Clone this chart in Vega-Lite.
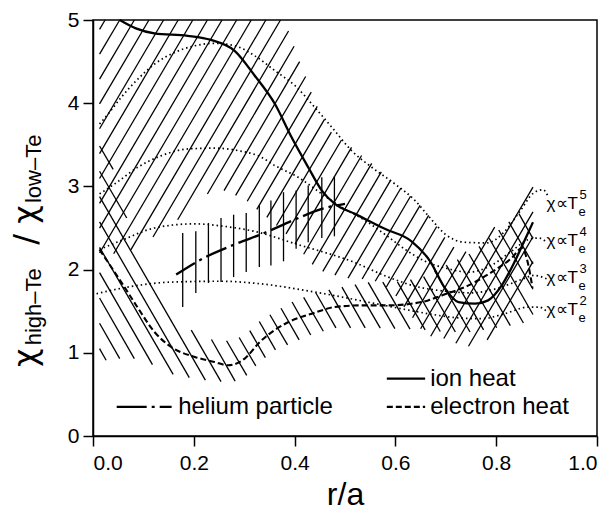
{
  "$schema": "https://vega.github.io/schema/vega-lite/v6.json",
  "width": 504,
  "height": 416,
  "autosize": {"type": "none"},
  "padding": {"left": 93, "top": 20, "right": 13, "bottom": 76},
  "background": "white",
  "config": {
    "font": "Liberation Sans",
    "view": {"stroke": "#000", "strokeWidth": 1.5},
    "axis": {
      "grid": false,
      "domainColor": "#000",
      "domainWidth": 1.5,
      "tickColor": "#000",
      "tickWidth": 1.5,
      "tickSize": 10,
      "labelColor": "#000",
      "labelFontSize": 21,
      "titleColor": "#000",
      "titleFontSize": 32,
      "titleFontWeight": "normal"
    }
  },
  "datasets": {
    "ionHatch": [
      {"x": 0.013, "y": 4.887, "x2": 0.024, "y2": 5},
      {"x": 0.013, "y": 4.589, "x2": 0.053, "y2": 5},
      {"x": 0.013, "y": 4.29, "x2": 0.082, "y2": 5},
      {"x": 0.013, "y": 3.991, "x2": 0.111, "y2": 5},
      {"x": 0.013, "y": 3.693, "x2": 0.14, "y2": 5},
      {"x": 0.013, "y": 3.394, "x2": 0.169, "y2": 5},
      {"x": 0.013, "y": 3.095, "x2": 0.198, "y2": 5},
      {"x": 0.013, "y": 2.796, "x2": 0.227, "y2": 5},
      {"x": 0.013, "y": 2.498, "x2": 0.256, "y2": 5},
      {"x": 0.013, "y": 2.199, "x2": 0.285, "y2": 5},
      {"x": 0.041, "y": 2.19, "x2": 0.314, "y2": 5},
      {"x": 0.075, "y": 2.238, "x2": 0.343, "y2": 5},
      {"x": 0.119, "y": 2.392, "x2": 0.372, "y2": 5},
      {"x": 0.168, "y": 2.599, "x2": 0.388, "y2": 4.868},
      {"x": 0.227, "y": 2.909, "x2": 0.399, "y2": 4.684},
      {"x": 0.26, "y": 2.95, "x2": 0.41, "y2": 4.5},
      {"x": 0.283, "y": 2.892, "x2": 0.422, "y2": 4.321},
      {"x": 0.306, "y": 2.822, "x2": 0.433, "y2": 4.133},
      {"x": 0.325, "y": 2.724, "x2": 0.445, "y2": 3.961},
      {"x": 0.345, "y": 2.628, "x2": 0.459, "y2": 3.803},
      {"x": 0.364, "y": 2.53, "x2": 0.473, "y2": 3.653},
      {"x": 0.383, "y": 2.429, "x2": 0.493, "y2": 3.558},
      {"x": 0.401, "y": 2.309, "x2": 0.513, "y2": 3.469},
      {"x": 0.418, "y": 2.184, "x2": 0.533, "y2": 3.371},
      {"x": 0.435, "y": 2.063, "x2": 0.553, "y2": 3.276},
      {"x": 0.456, "y": 1.978, "x2": 0.572, "y2": 3.175},
      {"x": 0.48, "y": 1.934, "x2": 0.591, "y2": 3.079},
      {"x": 0.506, "y": 1.898, "x2": 0.611, "y2": 2.981},
      {"x": 0.534, "y": 1.887, "x2": 0.63, "y2": 2.882},
      {"x": 0.56, "y": 1.86, "x2": 0.649, "y2": 2.771},
      {"x": 0.582, "y": 1.791, "x2": 0.666, "y2": 2.652},
      {"x": 0.601, "y": 1.683, "x2": 0.682, "y2": 2.518},
      {"x": 0.617, "y": 1.552, "x2": 0.698, "y2": 2.388},
      {"x": 0.634, "y": 1.421, "x2": 0.716, "y2": 2.27},
      {"x": 0.65, "y": 1.289, "x2": 0.74, "y2": 2.216},
      {"x": 0.67, "y": 1.199, "x2": 0.797, "y2": 2.51},
      {"x": 0.696, "y": 1.172, "x2": 0.873, "y2": 2.992},
      {"x": 0.72, "y": 1.115, "x2": 0.873, "y2": 2.693},
      {"x": 0.745, "y": 1.079, "x2": 0.873, "y2": 2.395},
      {"x": 0.782, "y": 1.156, "x2": 0.873, "y2": 2.096}
    ],
    "eleHatch": [
      {"x": 0.013, "y": 1.05, "x2": 0.026, "y2": 0.91},
      {"x": 0.013, "y": 1.355, "x2": 0.053, "y2": 0.93},
      {"x": 0.013, "y": 1.659, "x2": 0.082, "y2": 0.93},
      {"x": 0.013, "y": 1.964, "x2": 0.118, "y2": 0.858},
      {"x": 0.013, "y": 2.268, "x2": 0.159, "y2": 0.74},
      {"x": 0.013, "y": 2.573, "x2": 0.191, "y2": 0.702},
      {"x": 0.013, "y": 2.877, "x2": 0.223, "y2": 0.672},
      {"x": 0.013, "y": 3.182, "x2": 0.067, "y2": 2.62},
      {"x": 0.195, "y": 1.273, "x2": 0.254, "y2": 0.653},
      {"x": 0.013, "y": 3.486, "x2": 0.04, "y2": 3.204},
      {"x": 0.235, "y": 1.16, "x2": 0.282, "y2": 0.659},
      {"x": 0.265, "y": 1.145, "x2": 0.305, "y2": 0.729},
      {"x": 0.29, "y": 1.184, "x2": 0.323, "y2": 0.842},
      {"x": 0.311, "y": 1.267, "x2": 0.342, "y2": 0.942},
      {"x": 0.33, "y": 1.376, "x2": 0.362, "y2": 1.036},
      {"x": 0.351, "y": 1.457, "x2": 0.386, "y2": 1.096},
      {"x": 0.373, "y": 1.536, "x2": 0.409, "y2": 1.156},
      {"x": 0.395, "y": 1.611, "x2": 0.432, "y2": 1.214},
      {"x": 0.418, "y": 1.667, "x2": 0.457, "y2": 1.259},
      {"x": 0.442, "y": 1.722, "x2": 0.482, "y2": 1.3},
      {"x": 0.468, "y": 1.757, "x2": 0.511, "y2": 1.3},
      {"x": 0.494, "y": 1.79, "x2": 0.54, "y2": 1.3},
      {"x": 0.52, "y": 1.82, "x2": 0.57, "y2": 1.296},
      {"x": 0.546, "y": 1.846, "x2": 0.599, "y2": 1.29},
      {"x": 0.575, "y": 1.85, "x2": 0.629, "y2": 1.284},
      {"x": 0.604, "y": 1.853, "x2": 0.659, "y2": 1.275},
      {"x": 0.63, "y": 1.88, "x2": 0.689, "y2": 1.256},
      {"x": 0.656, "y": 1.916, "x2": 0.719, "y2": 1.25},
      {"x": 0.678, "y": 1.985, "x2": 0.748, "y2": 1.25},
      {"x": 0.701, "y": 2.053, "x2": 0.775, "y2": 1.275},
      {"x": 0.723, "y": 2.119, "x2": 0.801, "y2": 1.301},
      {"x": 0.746, "y": 2.187, "x2": 0.828, "y2": 1.327},
      {"x": 0.766, "y": 2.28, "x2": 0.854, "y2": 1.358},
      {"x": 0.786, "y": 2.377, "x2": 0.873, "y2": 1.46},
      {"x": 0.805, "y": 2.476, "x2": 0.873, "y2": 1.764},
      {"x": 0.825, "y": 2.574, "x2": 0.873, "y2": 2.069},
      {"x": 0.845, "y": 2.672, "x2": 0.873, "y2": 2.373}
    ],
    "heHatch": [
      {"x": 0.178, "y": 1.55, "y2": 2.44},
      {"x": 0.204, "y": 1.72, "y2": 2.46},
      {"x": 0.229, "y": 1.84, "y2": 2.56},
      {"x": 0.254, "y": 1.85, "y2": 2.62},
      {"x": 0.279, "y": 1.91, "y2": 2.66},
      {"x": 0.304, "y": 1.97, "y2": 2.68},
      {"x": 0.33, "y": 2.03, "y2": 2.77},
      {"x": 0.353, "y": 2.05, "y2": 2.83},
      {"x": 0.378, "y": 2.1, "y2": 2.93},
      {"x": 0.403, "y": 2.25, "y2": 2.95},
      {"x": 0.427, "y": 2.33, "y2": 3.01},
      {"x": 0.454, "y": 2.38, "y2": 3.11},
      {"x": 0.479, "y": 2.4, "y2": 3.12}
    ],
    "chi": [
      {"n": 5, "x": 0.013, "y": 3.75}, {"n": 5, "x": 0.03, "y": 3.87}, {"n": 5, "x": 0.056, "y": 4.07},
      {"n": 5, "x": 0.089, "y": 4.29}, {"n": 5, "x": 0.122, "y": 4.47}, {"n": 5, "x": 0.162, "y": 4.61},
      {"n": 5, "x": 0.202, "y": 4.69}, {"n": 5, "x": 0.241, "y": 4.72}, {"n": 5, "x": 0.281, "y": 4.69},
      {"n": 5, "x": 0.321, "y": 4.57}, {"n": 5, "x": 0.361, "y": 4.39}, {"n": 5, "x": 0.401, "y": 4.21},
      {"n": 5, "x": 0.44, "y": 3.95}, {"n": 5, "x": 0.474, "y": 3.71}, {"n": 5, "x": 0.513, "y": 3.43},
      {"n": 5, "x": 0.553, "y": 3.23}, {"n": 5, "x": 0.599, "y": 3.03}, {"n": 5, "x": 0.639, "y": 2.83},
      {"n": 5, "x": 0.669, "y": 2.62}, {"n": 5, "x": 0.7, "y": 2.42}, {"n": 5, "x": 0.735, "y": 2.33},
      {"n": 5, "x": 0.781, "y": 2.32}, {"n": 5, "x": 0.814, "y": 2.44}, {"n": 5, "x": 0.847, "y": 2.7},
      {"n": 5, "x": 0.874, "y": 2.92}, {"n": 5, "x": 0.893, "y": 2.96}, {"n": 5, "x": 0.903, "y": 2.88},
      {"n": 4, "x": 0.013, "y": 2.91}, {"n": 4, "x": 0.043, "y": 3.03}, {"n": 4, "x": 0.089, "y": 3.23},
      {"n": 4, "x": 0.136, "y": 3.37}, {"n": 4, "x": 0.188, "y": 3.45}, {"n": 4, "x": 0.241, "y": 3.46},
      {"n": 4, "x": 0.288, "y": 3.43}, {"n": 4, "x": 0.331, "y": 3.36}, {"n": 4, "x": 0.361, "y": 3.25},
      {"n": 4, "x": 0.407, "y": 3.11}, {"n": 4, "x": 0.454, "y": 2.91}, {"n": 4, "x": 0.493, "y": 2.75},
      {"n": 4, "x": 0.54, "y": 2.59}, {"n": 4, "x": 0.58, "y": 2.42}, {"n": 4, "x": 0.62, "y": 2.24},
      {"n": 4, "x": 0.659, "y": 2.1}, {"n": 4, "x": 0.698, "y": 2.02}, {"n": 4, "x": 0.745, "y": 1.97},
      {"n": 4, "x": 0.79, "y": 2.05}, {"n": 4, "x": 0.83, "y": 2.22}, {"n": 4, "x": 0.864, "y": 2.36},
      {"n": 4, "x": 0.885, "y": 2.38}, {"n": 4, "x": 0.9, "y": 2.33},
      {"n": 3, "x": 0.013, "y": 2.24}, {"n": 3, "x": 0.06, "y": 2.36}, {"n": 3, "x": 0.122, "y": 2.5},
      {"n": 3, "x": 0.2, "y": 2.55}, {"n": 3, "x": 0.26, "y": 2.52}, {"n": 3, "x": 0.32, "y": 2.46},
      {"n": 3, "x": 0.407, "y": 2.3}, {"n": 3, "x": 0.513, "y": 2.1}, {"n": 3, "x": 0.586, "y": 1.91},
      {"n": 3, "x": 0.639, "y": 1.8}, {"n": 3, "x": 0.7, "y": 1.74}, {"n": 3, "x": 0.75, "y": 1.72},
      {"n": 3, "x": 0.8, "y": 1.77}, {"n": 3, "x": 0.85, "y": 1.88}, {"n": 3, "x": 0.875, "y": 1.93},
      {"n": 3, "x": 0.9, "y": 1.89},
      {"n": 2, "x": 0.007, "y": 1.71}, {"n": 2, "x": 0.069, "y": 1.79}, {"n": 2, "x": 0.155, "y": 1.85},
      {"n": 2, "x": 0.255, "y": 1.86}, {"n": 2, "x": 0.331, "y": 1.83}, {"n": 2, "x": 0.44, "y": 1.73},
      {"n": 2, "x": 0.553, "y": 1.6}, {"n": 2, "x": 0.62, "y": 1.52}, {"n": 2, "x": 0.665, "y": 1.47},
      {"n": 2, "x": 0.725, "y": 1.42}, {"n": 2, "x": 0.771, "y": 1.41}, {"n": 2, "x": 0.817, "y": 1.47},
      {"n": 2, "x": 0.864, "y": 1.55}, {"n": 2, "x": 0.885, "y": 1.55}, {"n": 2, "x": 0.9, "y": 1.5}
    ],
    "ion": [
      {"x": 0.053, "y": 5.0}, {"x": 0.085, "y": 4.9}, {"x": 0.122, "y": 4.84}, {"x": 0.188, "y": 4.81},
      {"x": 0.234, "y": 4.76}, {"x": 0.281, "y": 4.63}, {"x": 0.321, "y": 4.33}, {"x": 0.361, "y": 3.99},
      {"x": 0.394, "y": 3.59}, {"x": 0.427, "y": 3.23}, {"x": 0.454, "y": 2.95}, {"x": 0.48, "y": 2.79},
      {"x": 0.52, "y": 2.67}, {"x": 0.579, "y": 2.49}, {"x": 0.632, "y": 2.34}, {"x": 0.669, "y": 2.1},
      {"x": 0.698, "y": 1.78}, {"x": 0.725, "y": 1.61}, {"x": 0.758, "y": 1.59}, {"x": 0.784, "y": 1.63},
      {"x": 0.811, "y": 1.81}, {"x": 0.837, "y": 2.1}, {"x": 0.857, "y": 2.36}, {"x": 0.873, "y": 2.57}
    ],
    "ele": [
      {"x": 0.013, "y": 2.24}, {"x": 0.056, "y": 1.85}, {"x": 0.089, "y": 1.54}, {"x": 0.122, "y": 1.25},
      {"x": 0.155, "y": 1.07}, {"x": 0.202, "y": 0.95}, {"x": 0.241, "y": 0.89}, {"x": 0.268, "y": 0.85},
      {"x": 0.301, "y": 0.93}, {"x": 0.331, "y": 1.13}, {"x": 0.388, "y": 1.37}, {"x": 0.434, "y": 1.47},
      {"x": 0.48, "y": 1.55}, {"x": 0.533, "y": 1.57}, {"x": 0.586, "y": 1.57}, {"x": 0.632, "y": 1.59},
      {"x": 0.665, "y": 1.63}, {"x": 0.692, "y": 1.69}, {"x": 0.745, "y": 1.81}, {"x": 0.791, "y": 1.97},
      {"x": 0.831, "y": 2.14}, {"x": 0.851, "y": 2.26}, {"x": 0.862, "y": 2.1}, {"x": 0.872, "y": 1.78}
    ],
    "he": [
      {"x": 0.165, "y": 1.94}, {"x": 0.22, "y": 2.14}, {"x": 0.28, "y": 2.3}, {"x": 0.34, "y": 2.44},
      {"x": 0.4, "y": 2.6}, {"x": 0.454, "y": 2.73}, {"x": 0.5, "y": 2.79}
    ],
    "leg": [
      {"s": "ion", "x": 0.583, "x2": 0.659, "y": 0.69},
      {"s": "ele", "x": 0.583, "x2": 0.659, "y": 0.35},
      {"s": "he", "x": 0.047, "x2": 0.156, "y": 0.35}
    ],
    "legText": [
      {"t": "ion heat", "x": 0.669, "y": 0.6},
      {"t": "electron heat", "x": 0.669, "y": 0.26},
      {"t": "helium particle", "x": 0.169, "y": 0.26}
    ],
    "nlab": [
      {"n": "5", "y": 2.79},
      {"n": "4", "y": 2.34},
      {"n": "3", "y": 1.9},
      {"n": "2", "y": 1.52}
    ],
    "ytitle": [
      {"t": "χ", "y": 0.83, "k": "main"},
      {"t": "high–Te", "y": 1.09, "k": "sub"},
      {"t": "/", "y": 2.3, "k": "main"},
      {"t": "χ", "y": 2.55, "k": "main"},
      {"t": "low–Te", "y": 2.8, "k": "sub"}
    ]
  },
  "layer": [
    {
      "data": {"name": "ionHatch"},
      "mark": {"type": "rule", "stroke": "#000", "strokeWidth": 1.3},
      "encoding": {
        "x": {"field": "x", "type": "quantitative",
              "scale": {"domain": [0, 1], "nice": false, "zero": false},
              "axis": {"title": "r/a", "values": [0, 0.2, 0.4, 0.6, 0.8, 1.0], "format": ".1f", "labelPadding": 6, "titlePadding": 6}},
        "y": {"field": "y", "type": "quantitative",
              "scale": {"domain": [0, 5], "nice": false, "zero": false},
              "axis": {"title": null, "values": [0, 1, 2, 3, 4, 5], "format": "d", "labelPadding": 4}},
        "x2": {"field": "x2"},
        "y2": {"field": "y2"}
      }
    },
    {
      "data": {"name": "eleHatch"},
      "mark": {"type": "rule", "stroke": "#000", "strokeWidth": 1.3},
      "encoding": {
        "x": {"field": "x", "type": "quantitative"},
        "y": {"field": "y", "type": "quantitative"},
        "x2": {"field": "x2"},
        "y2": {"field": "y2"}
      }
    },
    {
      "data": {"name": "heHatch"},
      "mark": {"type": "rule", "stroke": "#000", "strokeWidth": 1.3},
      "encoding": {
        "x": {"field": "x", "type": "quantitative"},
        "y": {"field": "y", "type": "quantitative"},
        "y2": {"field": "y2"}
      }
    },
    {
      "data": {"name": "chi"},
      "mark": {"type": "line", "stroke": "#000", "strokeWidth": 1.7, "strokeDash": [1.5, 3], "interpolate": "monotone"},
      "encoding": {
        "x": {"field": "x", "type": "quantitative"},
        "y": {"field": "y", "type": "quantitative"},
        "detail": {"field": "n"}
      }
    },
    {
      "data": {"name": "ion"},
      "mark": {"type": "line", "stroke": "#000", "strokeWidth": 2.3, "interpolate": "monotone"},
      "encoding": {
        "x": {"field": "x", "type": "quantitative"},
        "y": {"field": "y", "type": "quantitative"}
      }
    },
    {
      "data": {"name": "ele"},
      "mark": {"type": "line", "stroke": "#000", "strokeWidth": 2.1, "strokeDash": [6, 3], "interpolate": "monotone"},
      "encoding": {
        "x": {"field": "x", "type": "quantitative"},
        "y": {"field": "y", "type": "quantitative"}
      }
    },
    {
      "data": {"name": "he"},
      "mark": {"type": "line", "stroke": "#000", "strokeWidth": 2.3, "strokeDash": [22, 5, 3, 5], "interpolate": "monotone"},
      "encoding": {
        "x": {"field": "x", "type": "quantitative"},
        "y": {"field": "y", "type": "quantitative"}
      }
    },
    {
      "data": {"name": "leg"},
      "transform": [{"filter": "datum.s === 'ion'"}],
      "mark": {"type": "rule", "stroke": "#000", "strokeWidth": 2.3},
      "encoding": {
        "x": {"field": "x", "type": "quantitative"},
        "x2": {"field": "x2"},
        "y": {"field": "y", "type": "quantitative"}
      }
    },
    {
      "data": {"name": "leg"},
      "transform": [{"filter": "datum.s === 'ele'"}],
      "mark": {"type": "rule", "stroke": "#000", "strokeWidth": 2.1, "strokeDash": [6, 3]},
      "encoding": {
        "x": {"field": "x", "type": "quantitative"},
        "x2": {"field": "x2"},
        "y": {"field": "y", "type": "quantitative"}
      }
    },
    {
      "data": {"name": "leg"},
      "transform": [{"filter": "datum.s === 'he'"}],
      "mark": {"type": "rule", "stroke": "#000", "strokeWidth": 2.3, "strokeDash": [30, 5, 3, 5, 14, 100]},
      "encoding": {
        "x": {"field": "x", "type": "quantitative"},
        "x2": {"field": "x2"},
        "y": {"field": "y", "type": "quantitative"}
      }
    },
    {
      "data": {"name": "legText"},
      "mark": {"type": "text", "align": "left", "baseline": "alphabetic", "fontSize": 24, "color": "#000"},
      "encoding": {
        "x": {"field": "x", "type": "quantitative"},
        "y": {"field": "y", "type": "quantitative"},
        "text": {"field": "t"}
      }
    },
    {
      "data": {"name": "nlab"},
      "mark": {"type": "text", "align": "left", "baseline": "middle", "fontSize": 17, "color": "#000"},
      "encoding": {
        "x": {"datum": 0.9, "type": "quantitative"},
        "y": {"field": "y", "type": "quantitative"},
        "text": {"value": "χ∝T"}
      }
    },
    {
      "data": {"name": "nlab"},
      "mark": {"type": "text", "align": "left", "baseline": "middle", "fontSize": 13, "color": "#000", "dx": 32, "dy": 8},
      "encoding": {
        "x": {"datum": 0.9, "type": "quantitative"},
        "y": {"field": "y", "type": "quantitative"},
        "text": {"value": "e"}
      }
    },
    {
      "data": {"name": "nlab"},
      "mark": {"type": "text", "align": "left", "baseline": "middle", "fontSize": 13, "color": "#000", "dx": 33, "dy": -9},
      "encoding": {
        "x": {"datum": 0.9, "type": "quantitative"},
        "y": {"field": "y", "type": "quantitative"},
        "text": {"field": "n"}
      }
    },
    {
      "data": {"name": "ytitle"},
      "transform": [{"filter": "datum.k === 'main'"}],
      "mark": {"type": "text", "align": "left", "baseline": "alphabetic", "angle": 270, "fontSize": 32, "font": "DejaVu Sans", "color": "#000"},
      "encoding": {
        "x": {"datum": -0.113, "type": "quantitative"},
        "y": {"field": "y", "type": "quantitative"},
        "text": {"field": "t"}
      }
    },
    {
      "data": {"name": "ytitle"},
      "transform": [{"filter": "datum.k === 'sub'"}],
      "mark": {"type": "text", "align": "left", "baseline": "alphabetic", "angle": 270, "fontSize": 22, "color": "#000"},
      "encoding": {
        "x": {"datum": -0.103, "type": "quantitative"},
        "y": {"field": "y", "type": "quantitative"},
        "text": {"field": "t"}
      }
    }
  ]
}
